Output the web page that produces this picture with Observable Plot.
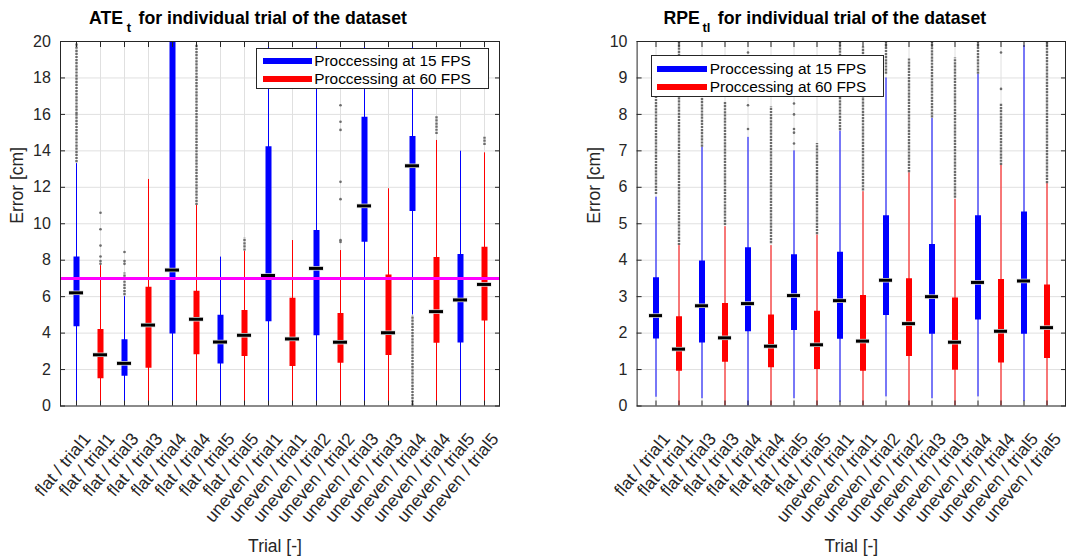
<!DOCTYPE html>
<html><head><meta charset="utf-8">
<script src="https://cdn.jsdelivr.net/npm/d3@7"></script>
<script src="https://cdn.jsdelivr.net/npm/@observablehq/plot@0.6"></script>
<style>
body{margin:0;background:#fff;font-family:"Liberation Sans",Arial,Helvetica,sans-serif;}
#wrap{position:relative;width:1073px;height:557px;overflow:hidden;background:#fff;}
.panel{position:absolute;top:0;width:540px;height:557px;}
.panel svg{max-width:none !important;}
.title{position:absolute;top:10px;font-weight:bold;font-size:17.7px;line-height:1;color:#000;white-space:nowrap;}
.title .sub{position:relative;top:8px;font-size:13px;margin-right:2.5px;}
.legend{position:absolute;box-sizing:border-box;border:1px solid #262626;background:#fff;font-size:15.4px;color:#000;}
.legend .row{position:absolute;height:18px;line-height:18px;display:flex;align-items:center;white-space:nowrap;}
.legend .sw{display:inline-block;height:6px;margin-right:2.5px;}
</style></head><body>
<div id="wrap"></div>
<script>
// ---- data ----
const labels = ["flat / trial1","flat / trial1","flat / trial3","flat / trial3","flat / trial4","flat / trial4","flat / trial5","flat / trial5","uneven / trial1","uneven / trial1","uneven / trial2","uneven / trial2","uneven / trial3","uneven / trial3","uneven / trial4","uneven / trial4","uneven / trial5","uneven / trial5"];
const series = ["Proccessing at 15 FPS", "Proccessing at 60 FPS"];
const seriesColors = ["#0000ff", "#ff0000"];

// ATE_t (cm)
const ateQ1  = [4.35, 1.50, 1.63, 2.07, 3.95, 2.81, 2.30, 2.72, 4.62, 2.17, 3.86, 2.34, 8.99, 2.77, 10.67, 3.44, 3.45, 4.66];
const ateMed = [6.21, 2.81, 2.34, 4.44, 7.46, 4.76, 3.51, 3.88, 7.16, 3.68, 7.55, 3.50, 10.98, 4.02, 13.18, 5.18, 5.82, 6.67];
const ateQ3  = [8.17, 4.20, 3.64, 6.52, 24.0, 6.30, 4.98, 5.24, 14.22, 5.91, 9.63, 5.07, 15.85, 7.19, 14.79, 8.15, 8.31, 8.71];
const ateLo  = [0, 0, 0, 0, 0, 0, 0, 0, 0, 0, 0, 0, 0, 0, 5.0, 0, 0, 0];
const ateHi  = [13.3, 7.7, 6.0, 12.43, 30, 11.0, 8.17, 8.5, 25, 9.08, 25, 8.53, 25, 11.92, 25, 14.57, 13.98, 13.89];
const ateOutRuns = [[1, 13.35, 16.0], [1, 16.0, 19.9], [3, 6.05, 7.3], [6, 11.0, 19.8], [8, 8.5, 9.2], [15, 0, 4.95], [16, 14.9, 15.9], [18, 14.3, 14.75]];
const ateOutPts = [[2, 7.8], [2, 7.95], [2, 8.2], [2, 8.8], [2, 9.7], [2, 10.6], [3, 7.8], [3, 7.95], [3, 8.45],
                   [12, 9.0], [12, 9.1], [12, 11.35], [12, 12.3], [12, 15.15], [12, 15.6], [12, 16.5]];
const ateThreshold = [7];

// RPE_tl (cm)
const rpeQ1  = [1.84, 0.95, 1.73, 1.20, 2.04, 1.05, 2.07, 1.00, 1.83, 0.95, 2.48, 1.36, 1.97, 0.98, 2.36, 1.18, 1.97, 1.30];
const rpeMed = [2.48, 1.56, 2.75, 1.87, 2.81, 1.64, 3.03, 1.68, 2.89, 1.78, 3.45, 2.26, 3.00, 1.75, 3.39, 2.05, 3.43, 2.15];
const rpeQ3  = [3.52, 2.45, 3.98, 2.81, 4.34, 2.50, 4.15, 2.60, 4.22, 3.03, 5.22, 3.49, 4.43, 2.96, 5.22, 3.47, 5.32, 3.32];
const rpeLo  = [0.24, 0, 0.2, 0, 0, 0, 0.2, 0, 0.1, 0, 0.25, 0, 0.2, 0, 0.25, 0, 0.12, 0];
const rpeHi  = [5.73, 4.40, 7.10, 4.92, 7.37, 4.40, 7.00, 4.69, 7.54, 5.88, 9.00, 6.40, 7.89, 5.67, 9.10, 6.62, 9.89, 6.10];
const rpeOutRuns = [[1, 5.8, 8.65], [2, 4.4, 10], [3, 7.1, 8.5], [4, 4.95, 8.35], [6, 4.45, 8.2], [8, 4.7, 7.2], [9, 7.55, 10],
                    [10, 5.9, 9.85], [11, 9.1, 10], [12, 6.4, 9.55], [13, 7.9, 10], [14, 5.7, 9.55], [15, 9.1, 10], [16, 6.6, 8.3], [18, 6.1, 10]];
const rpeOutPts = [[3, 9.2], [3, 9.6], [5, 7.6], [5, 8.25], [5, 9.7], [7, 7.2], [7, 7.5], [7, 7.6], [7, 8.0], [7, 8.3], [16, 8.7], [16, 9.7]];

const yLabel = "Error [cm]";
const xLabel = "Trial [-]";

// ---- drawing ----
const FONT = '"Liberation Sans", Arial, Helvetica, sans-serif';
function panel(cfg) {
  const idx = d3.range(labels.length);
  const rows = idx.map(i => ({i, s: series[i % 2], q1: cfg.q1[i], med: cfg.med[i], q3: cfg.q3[i], lo: cfg.lo[i], hi: cfg.hi[i]}));
  const runs = cfg.runs.map(([b, lo, hi]) => ({i: b - 1, lo, hi}));
  const pts = cfg.pts.map(([b, v]) => ({i: b - 1, v}));
  const yTicks = d3.range(0, cfg.yMax + 1e-9, cfg.yStep);
  const grey = "#6b6b6b";
  return Plot.plot({
    width: cfg.width, height: 557,
    marginLeft: cfg.marginLeft, marginRight: cfg.marginRight, marginTop: 41, marginBottom: 151.5,
    style: {fontFamily: FONT, fontSize: "16px", color: "#262626", background: "transparent", overflow: "visible", maxWidth: "none"},
    x: {type: "band", domain: idx, padding: 0},
    y: {domain: [0, cfg.yMax]},
    color: {domain: series, range: seriesColors},
    marks: [
      Plot.gridY(yTicks, {stroke: "#e0e0e0", strokeOpacity: 1}),
      Plot.gridX(idx, {stroke: "#e0e0e0", strokeOpacity: 1}),
      Plot.ruleX(rows, {x: "i", y1: "lo", y2: "hi", stroke: "s", strokeWidth: 1, clip: true}),
      Plot.ruleX(runs, {x: "i", y1: "lo", y2: "hi", stroke: grey, strokeWidth: 2.4, strokeDasharray: "2.2,0.9", clip: true}),
      Plot.dot(pts, {x: "i", y: "v", r: 1.3, fill: grey, stroke: null, clip: true}),
      Plot.ruleX(rows, {x: "i", y1: "q1", y2: "q3", stroke: "s", strokeWidth: 6, clip: true}),
      Plot.tickY(rows, {x: "i", y: "med", stroke: "#d8d8d8", strokeWidth: 4.5, insetLeft: 4.6, insetRight: 4.6}),
      Plot.tickY(rows, {x: "i", y: "med", stroke: "#000", strokeWidth: 3, insetLeft: 5, insetRight: 5}),
      ...(cfg.threshold ? [Plot.ruleY(cfg.threshold, {stroke: "#ff00ff", strokeWidth: 3})] : []),
      Plot.axisY(yTicks, {anchor: "left", tickSize: -5, tickPadding: 14.6, label: null, stroke: "#262626", fill: "#262626", fontSize: 16}),
      Plot.axisY(yTicks, {anchor: "right", tickSize: -5, tickFormat: () => "", label: null, stroke: "#262626"}),
      Plot.axisX(idx, {anchor: "bottom", tickSize: -5, tickFormat: () => "", label: null, stroke: "#262626"}),
      Plot.axisX(idx, {anchor: "bottom", tickSize: 0, tickPadding: 29.7, dx: 10.8, tickRotate: -50, tickFormat: i => labels[i], label: null, fill: "#262626", fontSize: 17.5}),
      Plot.axisX(idx, {anchor: "top", tickSize: -5, tickFormat: () => "", label: null, stroke: "#262626"}),
      Plot.text([yLabel], {frameAnchor: "left", dx: -49.7, rotate: -90, lineAnchor: "top", fontSize: 17.5, fill: "#262626"}),
      Plot.text([xLabel], {frameAnchor: "bottom", dx: cfg.xLabelShift, dy: 146, lineAnchor: "bottom", fontSize: 17.5, fill: "#262626"}),
      Plot.frame({stroke: "#262626"})
    ]
  });
}

function legend(left, top, w, h, swLeft, swW, rowTops) {
  const lg = document.createElement("div");
  lg.className = "legend";
  Object.assign(lg.style, {left: left + "px", top: top + "px", width: w + "px", height: h + "px"});
  series.forEach((s, k) => {
    const r = document.createElement("div");
    r.className = "row";
    r.style.top = rowTops[k] + "px";
    r.style.left = swLeft + "px";
    const sw = document.createElement("span");
    sw.className = "sw";
    sw.style.background = seriesColors[k];
    sw.style.width = swW + "px";
    r.appendChild(sw);
    r.appendChild(document.createTextNode(s));
    lg.appendChild(r);
  });
  return lg;
}

const wrap = document.getElementById("wrap");

const left = document.createElement("div");
left.className = "panel"; left.style.left = "0px";
left.appendChild(panel({q1: ateQ1, med: ateMed, q3: ateQ3, lo: ateLo, hi: ateHi, runs: ateOutRuns, pts: ateOutPts,
  threshold: ateThreshold, yMax: 20, yStep: 2, width: 540, marginLeft: 60, marginRight: 41, xLabelShift: -5}));
wrap.appendChild(left);

const right = document.createElement("div");
right.className = "panel"; right.style.left = "540px";
right.appendChild(panel({q1: rpeQ1, med: rpeMed, q3: rpeQ3, lo: rpeLo, hi: rpeHi, runs: rpeOutRuns, pts: rpeOutPts,
  threshold: null, yMax: 10, yStep: 1, width: 540, marginLeft: 96.6, marginRight: 15, xLabelShift: 0}));
wrap.appendChild(right);

const t1 = document.createElement("div");
t1.className = "title"; t1.style.left = "89px";
t1.innerHTML = 'ATE<span class="sub" style="margin-left:3.8px">t</span> for individual trial of the dataset';
wrap.appendChild(t1);
const t2 = document.createElement("div");
t2.className = "title"; t2.style.left = "663.4px";
t2.innerHTML = 'RPE<span class="sub" style="margin-left:2.7px">tl</span> for individual trial of the dataset';
wrap.appendChild(t2);

wrap.appendChild(legend(256, 48, 233, 41, 5.7, 49, [3.3, 21.3]));
wrap.appendChild(legend(651, 55, 233, 42, 5.3, 50, [3.7, 21.7]));
</script></body></html>
